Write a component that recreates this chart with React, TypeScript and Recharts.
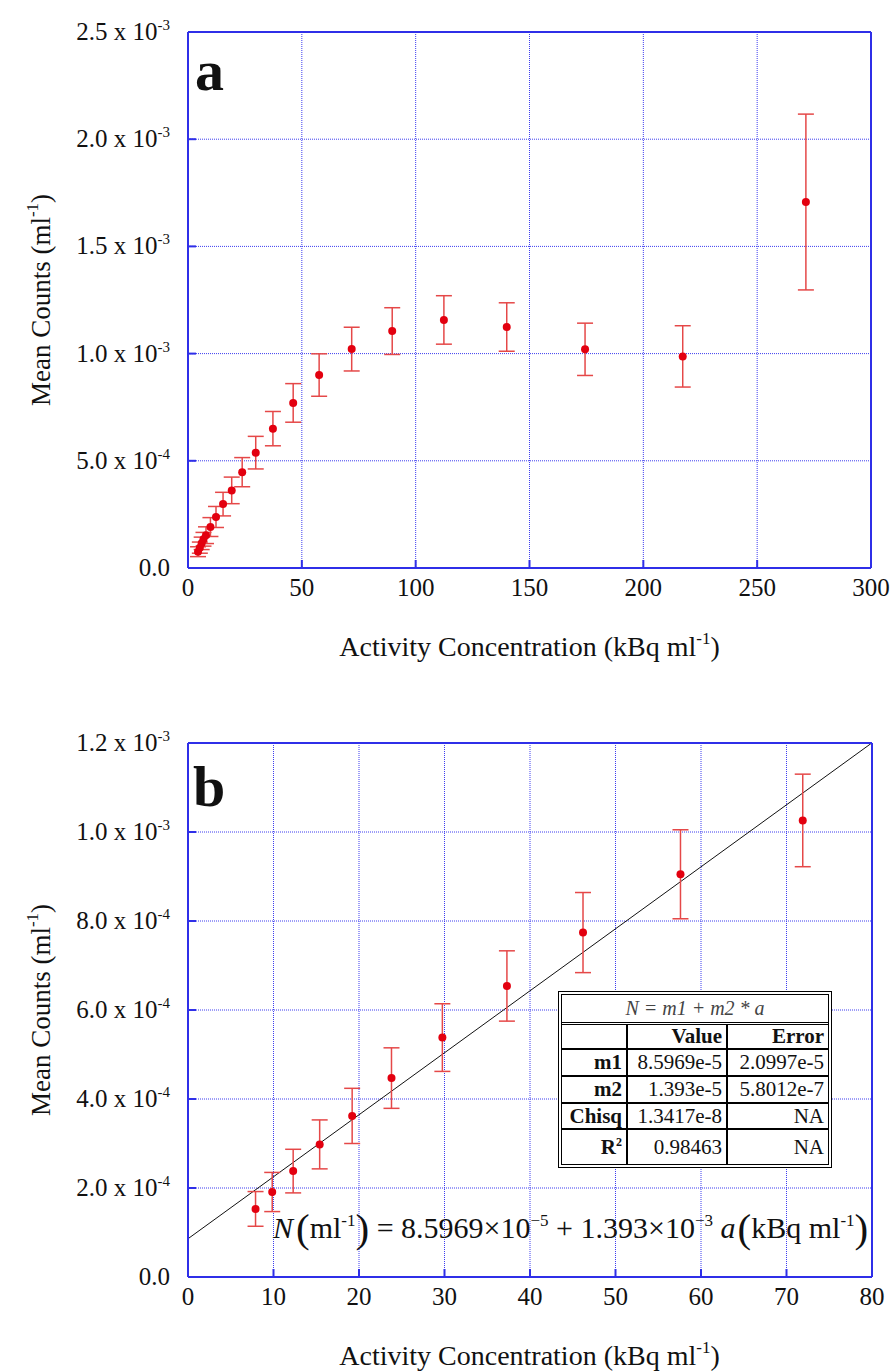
import React from 'react';
import { ComposedChart, Scatter, ErrorBar, XAxis, YAxis, CartesianGrid, ReferenceLine } from 'recharts';

const FONT = '"Liberation Serif", "Times New Roman", serif';
const AXIS_BLUE = '#2f2fe8';
const GRID_BLUE = '#3d3df0';
const DOT_RED = '#e3000f';
const BAR_RED = '#e54848';
const INK = '#111';

// panel a: full range
const concA = [4.4, 5.2, 6.0, 6.8, 7.9, 9.85, 12.3, 15.4, 19.2, 23.8, 29.75, 37.3, 46.2, 57.6, 71.9, 89.7, 112.4, 140, 174.4, 217.3, 271.4];
const countsA = [7.6e-5, 9.5e-5, 1.15e-4, 1.34e-4, 1.53e-4, 1.91e-4, 2.38e-4, 2.98e-4, 3.62e-4, 4.47e-4, 5.38e-4, 6.5e-4, 7.7e-4, 9.0e-4, 1.021e-3, 1.105e-3, 1.157e-3, 1.124e-3, 1.02e-3, 9.87e-4, 1.707e-3];
const errA = [2.3e-5, 2.6e-5, 2.9e-5, 3.2e-5, 3.9e-5, 4.4e-5, 4.9e-5, 5.5e-5, 6.2e-5, 6.8e-5, 7.6e-5, 8.0e-5, 9.0e-5, 9.9e-5, 1.02e-4, 1.09e-4, 1.13e-4, 1.13e-4, 1.22e-4, 1.43e-4, 4.1e-4];

// panel b: linear region
const concB = [7.9, 9.85, 12.3, 15.4, 19.2, 23.8, 29.75, 37.3, 46.2, 57.6, 71.9];
const countsB = [1.53e-4, 1.91e-4, 2.38e-4, 2.98e-4, 3.62e-4, 4.47e-4, 5.38e-4, 6.54e-4, 7.74e-4, 9.05e-4, 1.026e-3];
const errB = [3.9e-5, 4.4e-5, 4.9e-5, 5.5e-5, 6.2e-5, 6.8e-5, 7.6e-5, 7.9e-5, 9.0e-5, 1.0e-4, 1.04e-4];

// fit N = m1 + m2 * a
const FIT_M1 = 8.5969e-5;
const FIT_M2 = 1.393e-5;
const FIT_X = [0, 80];

const ticksAx = [0, 50, 100, 150, 200, 250, 300];
const ticksAy = [0, 5e-4, 1e-3, 1.5e-3, 2e-3, 2.5e-3];
const ticksBx = [0, 10, 20, 30, 40, 50, 60, 70, 80];
const ticksBy = [0, 2e-4, 4e-4, 6e-4, 8e-4, 1e-3, 1.2e-3];

const dataA = concA.map((x, i) => ({ x, y: countsA[i], err: errA[i] }));
const dataB = concB.map((x, i) => ({ x, y: countsB[i], err: errB[i] }));

/* eslint-disable @typescript-eslint/no-explicit-any */
function YTick({ x, y, payload }: any) {
  const v = Number(payload?.value ?? 0);
  if (!v) {
    return (
      <text x={x} y={y} dy={8} textAnchor="end" fontSize={25} fontFamily={FONT} fill={INK}>0.0</text>
    );
  }
  const exp = Math.floor(Math.log10(v) + 1e-9);
  const mant = (v / Math.pow(10, exp)).toFixed(1);
  return (
    <text x={x} y={y} dy={8} textAnchor="end" fontSize={25} fontFamily={FONT} fill={INK}>
      {`${mant} x 10`}
      <tspan dy={-10} fontSize={15}>{exp}</tspan>
    </text>
  );
}

function XTick({ x, y, payload }: any) {
  return (
    <text x={x} y={y} textAnchor="middle" fontSize={25} fontFamily={FONT} fill={INK}>{payload?.value}</text>
  );
}

const NoTick = () => null;

const Dot = (p: any) => <circle cx={p.cx} cy={p.cy} r={4} fill={DOT_RED} />;
/* eslint-enable @typescript-eslint/no-explicit-any */

const axisLine = { stroke: AXIS_BLUE, strokeWidth: 2 };
const tickLine = { stroke: AXIS_BLUE, strokeWidth: 2 };

interface PanelProps {
  height: number;
  top: number;
  bottom: number;
  right: number;
  xDomain: [number, number];
  yDomain: [number, number];
  xTicks: number[];
  yTicks: number[];
  children?: React.ReactNode;
}

function Panel({ height, top, bottom, right, xDomain, yDomain, xTicks, yTicks, children }: PanelProps) {
  return (
    <ComposedChart width={893} height={height} margin={{ top: 0, right: 0, bottom: 0, left: 0 }}>
      <CartesianGrid stroke={GRID_BLUE} strokeDasharray="1 1" strokeWidth={1} />
      <XAxis
        type="number"
        dataKey="x"
        domain={xDomain}
        ticks={xTicks}
        interval={0}
        height={bottom}
        axisLine={axisLine}
        tickLine={tickLine}
        tickSize={-8}
        tickMargin={36}
        tick={<XTick />}
      />
      <XAxis
        xAxisId="top"
        orientation="top"
        type="number"
        domain={xDomain}
        ticks={xTicks}
        interval={0}
        height={top}
        axisLine={axisLine}
        tickLine={tickLine}
        tickSize={-8}
        tick={NoTick}
      />
      <YAxis
        type="number"
        dataKey="y"
        domain={yDomain}
        ticks={yTicks}
        interval={0}
        width={188}
        axisLine={axisLine}
        tickLine={tickLine}
        tickSize={-8}
        tickMargin={26}
        tick={<YTick />}
      />
      <YAxis
        yAxisId="right"
        orientation="right"
        type="number"
        domain={yDomain}
        ticks={yTicks}
        interval={0}
        width={right}
        axisLine={axisLine}
        tickLine={tickLine}
        tickSize={-8}
        tick={NoTick}
      />
      {children}
    </ComposedChart>
  );
}

function AxisTitles({ plotBottom, plotMid }: { plotBottom: number; plotMid: number }) {
  return (
    <g fontFamily={FONT} fill={INK}>
      <text x={529.5} y={plotBottom + 88} textAnchor="middle" fontSize={28}>
        Activity Concentration (kBq ml
        <tspan dy={-12} fontSize={17}>-1</tspan>
        <tspan dy={12}>)</tspan>
      </text>
      <text x={50} y={plotMid} textAnchor="middle" fontSize={27} transform={`rotate(-90 50 ${plotMid})`}>
        Mean Counts (ml
        <tspan dy={-12} fontSize={17}>-1</tspan>
        <tspan dy={12}>)</tspan>
      </text>
    </g>
  );
}

const cell: React.CSSProperties = {
  padding: '0 4px', textAlign: 'right', borderLeft: '2px solid #000', borderTop: '2px solid #000',
  fontFamily: FONT, fontSize: 21, color: INK, lineHeight: 1,
};
const firstCell: React.CSSProperties = { ...cell, borderLeft: 'none', fontWeight: 'bold' };

function FitTable() {
  return (
    <div
      style={{
        position: 'absolute', left: 558, top: 991, width: 274, height: 177, boxSizing: 'border-box',
        border: '4px double #000', background: '#fff', fontFamily: FONT, fontSize: 21, color: INK,
      }}
    >
      <table style={{ borderCollapse: 'collapse', width: '100%', height: '100%', fontFamily: FONT, fontSize: 21 }}>
        <colgroup>
          <col style={{ width: 65 }} />
          <col style={{ width: 100 }} />
          <col />
        </colgroup>
        <tbody>
          <tr style={{ height: 28 }}>
            <td colSpan={3} style={{ ...cell, borderTop: 'none', borderLeft: 'none', textAlign: 'center', fontStyle: 'italic', fontSize: 20, color: '#444', borderBottom: '3px double #000' }}>
              N = m1 + m2 * a
            </td>
          </tr>
          <tr style={{ height: 26 }}>
            <td style={firstCell}></td>
            <td style={{ ...cell, fontWeight: 'bold' }}>Value</td>
            <td style={{ ...cell, fontWeight: 'bold' }}>Error</td>
          </tr>
          <tr style={{ height: 27 }}>
            <td style={firstCell}>m1</td>
            <td style={cell}>8.5969e-5</td>
            <td style={cell}>2.0997e-5</td>
          </tr>
          <tr style={{ height: 27 }}>
            <td style={firstCell}>m2</td>
            <td style={cell}>1.393e-5</td>
            <td style={cell}>5.8012e-7</td>
          </tr>
          <tr style={{ height: 26 }}>
            <td style={firstCell}>Chisq</td>
            <td style={cell}>1.3417e-8</td>
            <td style={cell}>NA</td>
          </tr>
          <tr style={{ height: 35 }}>
            <td style={firstCell}>R<sup style={{ fontSize: 12 }}>2</sup></td>
            <td style={cell}>0.98463</td>
            <td style={cell}>NA</td>
          </tr>
        </tbody>
      </table>
    </div>
  );
}

export default function App() {
  return (
    <div style={{ position: 'absolute', left: 0, top: 0, width: 893, height: 1372, background: '#fff' }}>
      <div style={{ position: 'absolute', left: 0, top: 0 }}>
        <Panel height={700} top={32} bottom={132} right={22} xDomain={[0, 300]} yDomain={[0, 2.5e-3]} xTicks={ticksAx} yTicks={ticksAy}>
          <Scatter data={dataA} shape={Dot} isAnimationActive={false}>
            <ErrorBar dataKey="err" direction="y" width={8} stroke={BAR_RED} strokeWidth={1.5} isAnimationActive={false} />
          </Scatter>
        </Panel>
      </div>
      <div style={{ position: 'absolute', left: 0, top: 700 }}>
        <Panel height={672} top={43} bottom={95} right={21} xDomain={[0, 80]} yDomain={[0, 1.2e-3]} xTicks={ticksBx} yTicks={ticksBy}>
          <ReferenceLine
            segment={FIT_X.map((x) => ({ x, y: FIT_M1 + FIT_M2 * x }))}
            stroke="#111"
            strokeWidth={1}
            ifOverflow="visible"
          />
          <Scatter data={dataB} shape={Dot} isAnimationActive={false}>
            <ErrorBar dataKey="err" direction="y" width={8} stroke={BAR_RED} strokeWidth={1.5} isAnimationActive={false} />
          </Scatter>
        </Panel>
      </div>
      <svg width={893} height={1372} style={{ position: 'absolute', left: 0, top: 0, pointerEvents: 'none' }}>
        <AxisTitles plotBottom={568} plotMid={300} />
        <AxisTitles plotBottom={1277} plotMid={1010} />
        <g fontFamily={FONT} fill={INK} fontWeight="bold" fontSize={58}>
          <text x={195} y={90}>a</text>
          <text x={193} y={806}>b</text>
        </g>
        <text x={273} y={1238} fontSize={30} fontFamily={FONT} fill={INK}>
          <tspan fontStyle="italic">N</tspan>
          <tspan fontSize={41} dy={4} dx={3}>(</tspan>
          <tspan dy={-4}>ml</tspan>
          <tspan fontSize={17} dy={-12}>-1</tspan>
          <tspan fontSize={41} dy={16}>)</tspan>
          <tspan dy={-4}>{' = 8.5969×10'}</tspan>
          <tspan fontSize={17} dy={-12}>−5</tspan>
          <tspan dy={12}>{' + 1.393×10'}</tspan>
          <tspan fontSize={17} dy={-12}>−3</tspan>
          <tspan dy={12} fontStyle="italic">{' a'}</tspan>
          <tspan fontSize={41} dy={4} dx={2}>(</tspan>
          <tspan dy={-4}>kBq ml</tspan>
          <tspan fontSize={17} dy={-12}>-1</tspan>
          <tspan fontSize={41} dy={16}>)</tspan>
        </text>
      </svg>
      <FitTable />
    </div>
  );
}
